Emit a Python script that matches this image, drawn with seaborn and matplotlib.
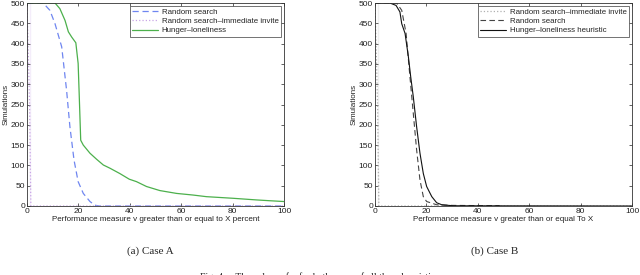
import numpy as np
import pandas as pd
import matplotlib
matplotlib.use("Agg")
import matplotlib.pyplot as plt
import seaborn as sns

# Case A
a_rand_x = [0, 6.3, 8.9, 10.9, 13.5, 15.4, 16.7, 18.3, 19.9, 21.9, 24.5, 26.4, 28, 100]
a_rand_y = [500, 500, 482, 449, 392, 285, 195, 113, 60, 31, 11, 2, 0, 0]
a_inv_x = [0, 1, 1, 1.5, 100]
a_inv_y = [500, 500, 0, 0, 0]
a_hl_x = [0, 10.9, 12.8, 14.8, 16.1, 17.4, 19.0, 19.9, 20.3, 20.9, 21.9, 24.5, 27.1,
          29.7, 32.3, 36.1, 39.8, 42.6, 43.9, 46.5, 51.7, 58.2, 64.6, 69.8, 80.2,
          89.2, 94.4, 100]
a_hl_y = [500, 500, 486, 457, 429, 416, 402, 351, 277, 162, 150, 130, 115,
          101, 93, 80, 66, 60, 56, 48, 38, 31, 27, 23, 19, 15, 13, 11]

# Case B
b_inv_x = [0, 1, 1, 1.5, 100]
b_inv_y = [500, 500, 0, 0, 0]
b_rand_x = [0, 8.4, 10.4, 12.1, 13.6, 14.9, 16.2, 17.5, 18.8, 20.1, 22.1, 24, 30, 40, 48.5]
b_rand_y = [500, 500, 482, 425, 318, 228, 138, 64, 23, 11, 7, 3, 1.5, 1, 1]
b_hl_x = [0, 5.8, 8.2, 9.7, 10.4, 11.7, 13, 13.9, 14.9, 16.2, 17.5, 18.8, 20.1,
          22.1, 24, 26, 30.5, 100]
b_hl_y = [500, 500, 494, 478, 449, 425, 367, 318, 269, 195, 130, 80, 48,
          23, 8, 3, 0.5, 0]

sns.set_theme(style="white")
plt.rcParams['font.family'] = ['Liberation Sans', 'DejaVu Sans']

fig = plt.figure(figsize=(6.4, 2.75), dpi=100)
ax1 = fig.add_axes([27 / 640, 1 - 206 / 275, 257 / 640, 203 / 275])
ax2 = fig.add_axes([375 / 640, 1 - 206 / 275, 257 / 640, 203 / 275])

sns.lineplot(x=a_rand_x, y=a_rand_y, ax=ax1, color='#6f86f0', lw=0.9,
             label='Random search', sort=False)
ax1.lines[-1].set_dashes([5, 3])
sns.lineplot(x=a_inv_x, y=a_inv_y, ax=ax1, color='#c9a6e6', lw=0.9,
             label='Random search\u2013immediate invite', sort=False)
ax1.lines[-1].set_linestyle(':')
sns.lineplot(x=a_hl_x, y=a_hl_y, ax=ax1, color='#4cb04c', lw=0.9,
             label='Hunger\u2013loneliness', sort=False)

sns.lineplot(x=b_inv_x, y=b_inv_y, ax=ax2, color='#b0b0b0', lw=0.9,
             label='Random search\u2013immediate invite', sort=False)
ax2.lines[-1].set_linestyle(':')
sns.lineplot(x=b_rand_x, y=b_rand_y, ax=ax2, color='#444444', lw=0.8,
             label='Random search', sort=False)
ax2.lines[-1].set_dashes([5, 3])
sns.lineplot(x=b_hl_x, y=b_hl_y, ax=ax2, color='#111111', lw=0.8,
             label='Hunger\u2013loneliness heuristic', sort=False)

xlabels = ['Performance measure v greater than or equal to X percent',
           'Performance measure v greater than or equal To X']
for ax, xl in zip([ax1, ax2], xlabels):
    ax.set_xlim(0, 100)
    ax.set_ylim(0, 500)
    ax.set_xticks(np.arange(0, 101, 20))
    ax.set_yticks(np.arange(0, 501, 50))
    ax.tick_params(direction='in', length=2.5, width=0.5, labelsize=6,
                   top=True, right=True, bottom=True, left=True, pad=1.5,
                   colors='#222222')
    for s in ax.spines.values():
        s.set_linewidth(0.6)
        s.set_color('#333333')
    ax.set_xlabel(xl, fontsize=5.8, labelpad=1, color='#222222')
    ax.set_ylabel('Simulations', fontsize=5.8, labelpad=1, color='#222222')
    leg = ax.legend(loc='upper right', fontsize=5.7, frameon=True, fancybox=False,
                    borderpad=0.3, labelspacing=0.2, handlelength=3.2,
                    handletextpad=0.5, borderaxespad=0.4)
    leg.get_frame().set_edgecolor('#333333')
    leg.get_frame().set_linewidth(0.6)

fig.text(150 / 640, 1 - 251 / 275, '(a) Case A', family='Liberation Serif',
         fontsize=8, ha='center', va='center')
fig.text(495 / 640, 1 - 251 / 275, '(b) Case B', family='Liberation Serif',
         fontsize=8, ha='center', va='center')
fig.text(320 / 640, 1 - 277 / 275,
         'Fig. 4.    The values of v for both cases of all three heuristics',
         family='Liberation Serif', fontsize=7, ha='center', va='center')

fig.savefig('out.png', dpi=100)
